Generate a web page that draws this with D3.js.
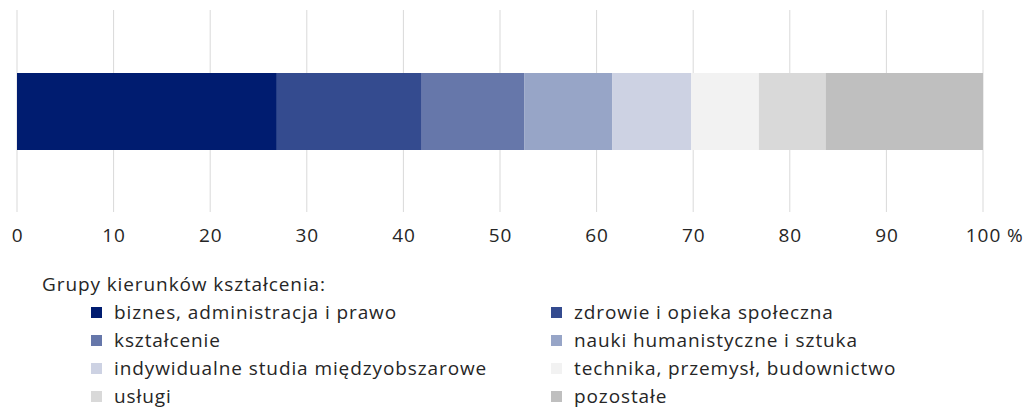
<!DOCTYPE html>
<html>
<head>
<meta charset="utf-8">
<script src="https://cdn.jsdelivr.net/npm/d3@7"></script>
<style>
  body { margin: 0; background: #fff; }
  svg { display: block; font-family: "Open Sans", sans-serif; }
  .lbl { font-size: 19px; letter-spacing: 0.9px; fill: #262626; }
</style>
</head>
<body>
<div id="chart"></div>
<script>
const categories = [
  "biznes, administracja i prawo",
  "zdrowie i opieka społeczna",
  "kształcenie",
  "nauki humanistyczne i sztuka",
  "indywidualne studia międzyobszarowe",
  "technika, przemysł, budownictwo",
  "usługi",
  "pozostałe",
];
const values = [26.9, 15.0, 10.6, 9.1, 8.2, 7.0, 6.9, 16.3];
const colors = ["#001c70", "#344b8f", "#6677aa", "#97a5c7", "#cdd2e3", "#f2f2f2", "#d9d9d9", "#bfbfbf"];
const ticks = [0, 10, 20, 30, 40, 50, 60, 70, 80, 90, 100];
const legendTitle = "Grupy kierunków kształcenia:";

const width = 1029;
const height = 420;

const x = d3.scaleLinear().domain([0, 100]).range([17, 983]);

const svg = d3.select("#chart")
  .append("svg")
  .attr("width", width)
  .attr("height", height);

// gridlines
svg.append("g")
  .selectAll("line")
  .data(ticks)
  .join("line")
  .attr("x1", (d) => x(d))
  .attr("x2", (d) => x(d))
  .attr("y1", 10)
  .attr("y2", 212)
  .attr("stroke", "#d9d9d9")
  .attr("stroke-width", 1);

// stacked segments
const stacked = [];
let acc = 0;
values.forEach((v, i) => {
  stacked.push({ key: categories[i], x0: acc, x1: acc + v, color: colors[i] });
  acc += v;
});

svg.append("g")
  .selectAll("rect")
  .data(stacked)
  .join("rect")
  .attr("x", (d) => x(d.x0))
  .attr("width", (d) => x(d.x1) - x(d.x0))
  .attr("y", 73)
  .attr("height", 77)
  .attr("fill", (d) => d.color);

// axis labels
const gx = svg.append("g")
  .attr("transform", "translate(0,242)")
  .call(d3.axisBottom(x).tickValues(ticks).tickSize(0).tickPadding(0).tickFormat(d3.format("d")))
  .attr("font-size", null)
  .attr("font-family", null)
  .call((g) => g.select(".domain").remove());

gx.selectAll(".tick text")
  .attr("class", "lbl")
  .attr("dy", null)
  .attr("y", 0)
  .attr("fill", null);

const last = gx.selectAll(".tick text").filter((d) => d === 100);
const w100 = last.node().getComputedTextLength();
last.attr("text-anchor", "start").attr("x", -w100 / 2).text("100 %");

// legend
svg.append("text")
  .attr("class", "lbl")
  .attr("x", 42)
  .attr("y", 291)
  .text(legendTitle);

const legend = svg.append("g")
  .selectAll("g")
  .data(stacked)
  .join("g")
  .attr("transform", (d, i) => `translate(${i % 2 === 0 ? 91 : 551},${312 + Math.floor(i / 2) * 28})`);

legend.append("rect")
  .attr("x", 0)
  .attr("y", -5)
  .attr("width", 11)
  .attr("height", 11)
  .attr("fill", (d) => d.color);

legend.append("text")
  .attr("class", "lbl")
  .attr("x", 23)
  .attr("y", 7)
  .text((d) => d.key);
</script>
</body>
</html>
